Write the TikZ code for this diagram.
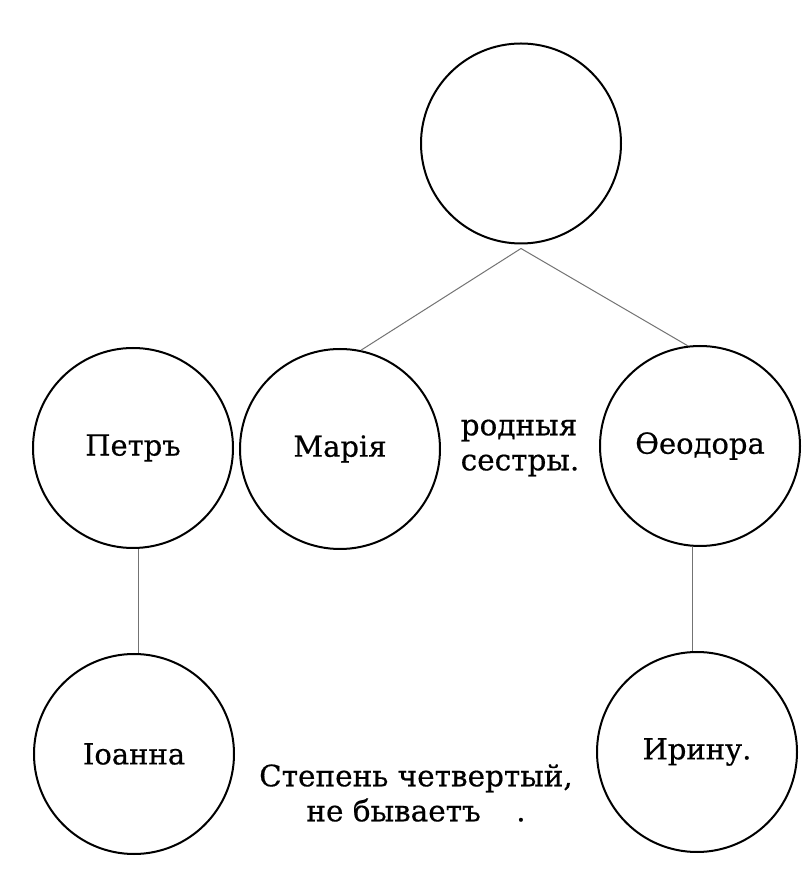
\documentclass[tikz,border=0pt]{standalone}
\usepackage{fontspec}
\setmainfont{DejaVu Serif}[FakeBold=0.5]
\begin{document}
\begin{tikzpicture}[x=1pt,y=1pt,
  person/.style={draw=black,line width=2pt,circle,inner sep=0pt,minimum size=200pt,font=\fontsize{29}{32}\selectfont},
  link/.style={draw=black!55,line width=1pt},
  note/.style={align=center,font=\fontsize{29.5}{35}\selectfont}]
\useasboundingbox (0,0) rectangle (802,879);
\fill[white] (0,0) rectangle (802,879);
\node[person] (top) at (521,735.5) {};
\node[person] (petr) at (133,431) {Петръ};
\node[person] (maria) at (340,430) {Марія};
\node[person] (teo) at (700,433) {Ѳеодора};
\node[person] (ioanna) at (134,125) {Іоанна};
\node[person] (irina) at (697,127) {Ирину.};
\node[note,align=left] (sisters) at (520,431) {родныя\\сестры.};
\node[note] (degree) at (416,86) {Степень четвертый,\\не бываетъ\hspace{1.2em}.};
\draw[link] ([yshift=-4pt]top.south) -- (maria.78);
\draw[link] ([yshift=-4pt]top.south) -- (teo.97);
\draw[link] (petr.-87) -- (petr.-87 |- ioanna.north);
\draw[link] (teo.-94) -- (teo.-94 |- irina.north);
\end{tikzpicture}
\end{document}
